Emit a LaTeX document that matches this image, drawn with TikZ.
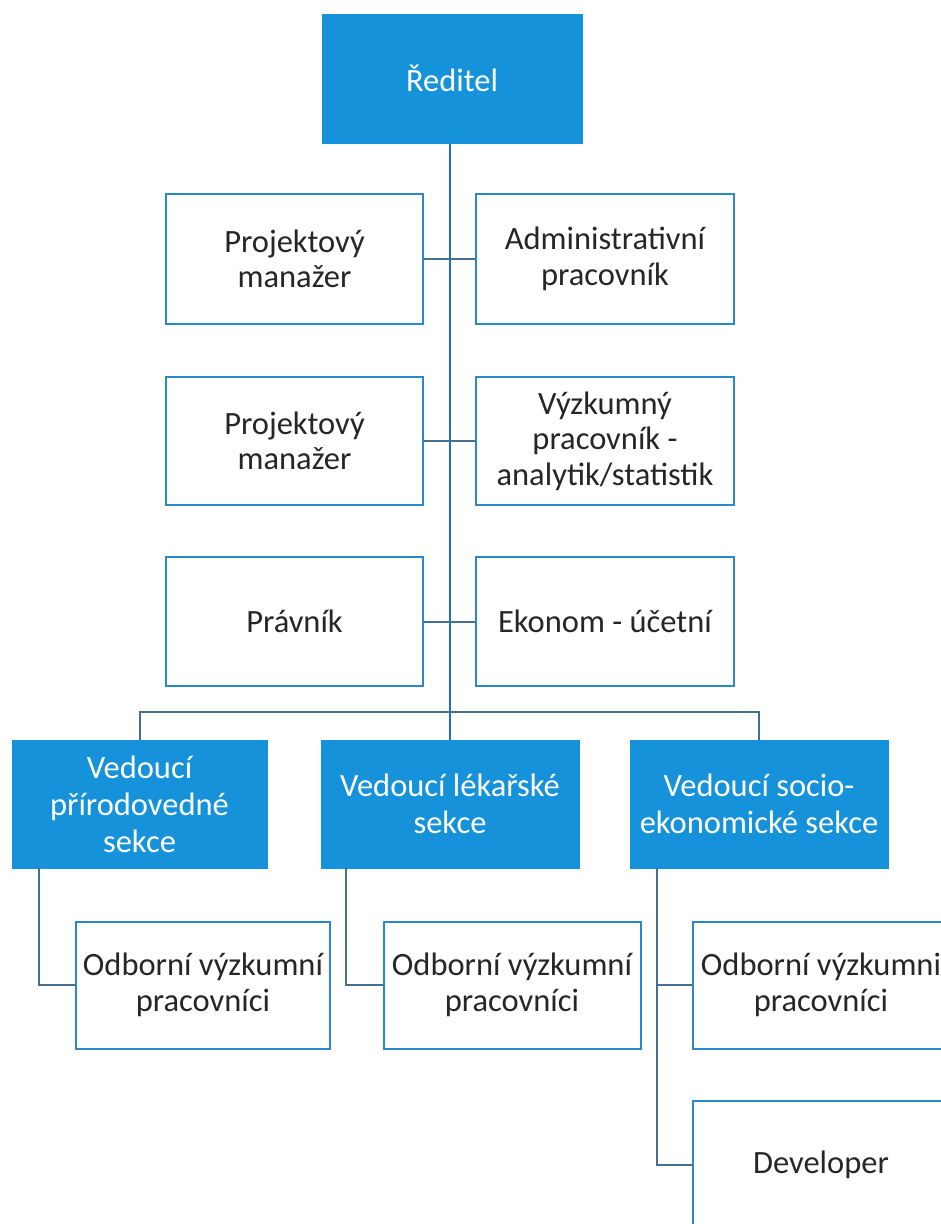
\documentclass[tikz,border=0pt]{standalone}
\usepackage{fontspec}
\setmainfont{Carlito}
\definecolor{bfill}{HTML}{1592DA}
\definecolor{bline}{HTML}{2A88CC}
\definecolor{cline}{HTML}{44708F}
\definecolor{tline}{HTML}{1B6FC4}
\tikzset{
  wbox/.style={draw=bline, line width=2pt, fill=white, align=center, inner sep=0pt,
    font=\fontsize{32.5}{35.5}\selectfont, text=black!85},
  bbox/.style={draw=bfill, fill=bfill, align=center, inner sep=0pt,
    font=\fontsize{32.5}{37}\selectfont, text=white},
  conn/.style={draw=cline, line width=2pt},
  trunk/.style={draw=tline, line width=2.4pt}
}
\begin{document}
\begin{tikzpicture}[x=1pt,y=-1pt]
\useasboundingbox (0,0) rectangle (941,1224);
\clip (0,0) rectangle (941,1224);
\fill[white] (0,0) rectangle (941,1224);
% nodes
\node[bbox, minimum width=260pt, minimum height=129pt] (dir) at (452,78.5) {Ředitel};
\node[wbox, minimum width=257pt, minimum height=130pt] (pm1) at (294.5,259) {Projektový\\manažer};
\node[wbox, minimum width=258pt, minimum height=130pt] (adm) at (605,259) {Administrativní\\pracovník};
\node[wbox, minimum width=257pt, minimum height=128pt] (pm2) at (294.5,441) {Projektový\\manažer};
\node[wbox, minimum width=258pt, minimum height=128pt] (vyz) at (605,441) {Výzkumný\\pracovník -\\analytik/statistik};
\node[wbox, minimum width=257pt, minimum height=129pt] (prav) at (294.5,621.5) {Právník};
\node[wbox, minimum width=258pt, minimum height=129pt] (ekon) at (605,621.5) {Ekonom - účetní};
\node[bbox, minimum width=255pt, minimum height=128pt] (sec1) at (139.5,804) {Vedoucí\\přírodovedné\\sekce};
\node[bbox, minimum width=258pt, minimum height=128pt] (sec2) at (450,804) {Vedoucí lékařské\\sekce};
\node[bbox, minimum width=258pt, minimum height=128pt] (sec3) at (759,804) {Vedoucí socio-\\ekonomické sekce};
\node[wbox, minimum width=254pt, minimum height=127pt] (odb1) at (203,985) {Odborní výzkumní\\pracovníci};
\node[wbox, minimum width=257pt, minimum height=127pt] (odb2) at (512,985) {Odborní výzkumní\\pracovníci};
\node[wbox, minimum width=256pt, minimum height=127pt] (odb3) at (821,985) {Odborní výzkumni\\pracovníci};
\node[wbox, minimum width=256pt, minimum height=128pt] (dev) at (821,1165) {Developer};
% connectors
\draw[trunk] (sec2.north |- dir.south) -- (sec2.north);
\draw[conn] (pm1.east) -- (adm.west);
\draw[conn] (pm2.east) -- (vyz.west);
\draw[conn] (prav.east) -- (ekon.west);
\coordinate (bus) at (450,712);
\draw[conn] (sec1.north) |- (bus) -| (sec3.north);
\coordinate (d1) at ([xshift=-101pt]sec1.south);
\coordinate (d2) at ([xshift=-104pt]sec2.south);
\coordinate (d3) at ([xshift=-102pt]sec3.south);
\draw[conn] (d1) |- (odb1.west);
\draw[conn] (d2) |- (odb2.west);
\draw[conn] (d3) |- (odb3.west);
\draw[conn] (d3) |- (dev.west);
\end{tikzpicture}
\end{document}
